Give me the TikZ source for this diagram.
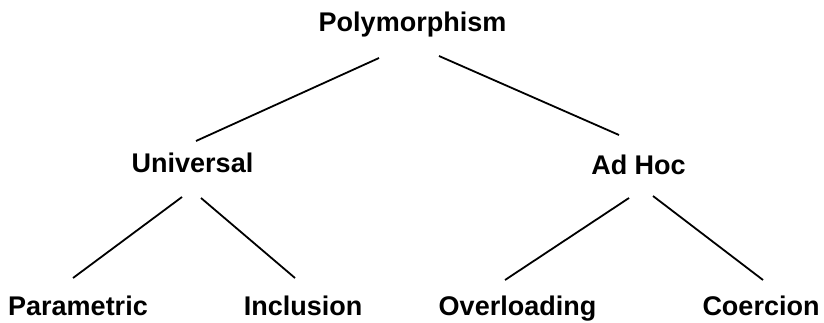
\documentclass[tikz,border=0pt]{standalone}
\usepackage{fontspec}
\setmainfont{Liberation Sans}
\begin{document}
\begin{tikzpicture}[x=1pt,y=-1pt,
  lbl/.style={anchor=base,inner sep=0pt,font=\fontsize{27}{30}\selectfont\bfseries},
  edge/.style={line width=1.8pt}]
\useasboundingbox (0,0) rectangle (824,323);
\node[lbl] (poly) at (412.5,32) {Polymorphism};
\node[lbl] (univ) at (192.5,173) {Universal};
\node[lbl] (adhoc) at (638.5,175) {Ad Hoc};
\node[lbl] (param) at (78,315) {Parametric};
\node[lbl] (incl) at (303,315) {Inclusion};
\node[lbl] (over) at (517.5,315) {Overloading};
\node[lbl] (coer) at (761,315) {Coercion};
\coordinate (pu1) at (379,58);  \coordinate (pu2) at (196,141);
\coordinate (pa1) at (439,56);  \coordinate (pa2) at (619,135);
\coordinate (up1) at (182,197); \coordinate (up2) at (73,278);
\coordinate (ui1) at (201,198); \coordinate (ui2) at (295,278);
\coordinate (ao1) at (629,198); \coordinate (ao2) at (505,280);
\coordinate (ac1) at (653,196); \coordinate (ac2) at (763,280);
\draw[edge] (pu1) -- (pu2);
\draw[edge] (pa1) -- (pa2);
\draw[edge] (up1) -- (up2);
\draw[edge] (ui1) -- (ui2);
\draw[edge] (ao1) -- (ao2);
\draw[edge] (ac1) -- (ac2);
\end{tikzpicture}
\end{document}
